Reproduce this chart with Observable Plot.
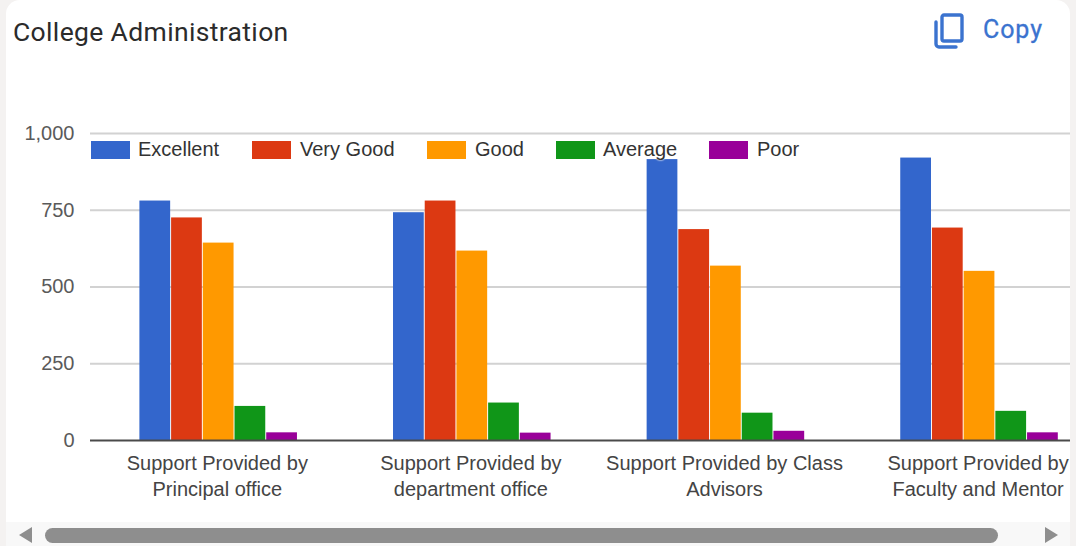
<!DOCTYPE html>
<html><head><meta charset="utf-8">
<script src="https://cdn.jsdelivr.net/npm/d3@7"></script>
<script src="https://cdn.jsdelivr.net/npm/@observablehq/plot@0.6"></script>
<style>
html,body{margin:0;padding:0;background:#f4f2f1;}
#page{position:relative;width:1076px;height:546px;overflow:hidden;background:#f4f2f1;font-family:"Liberation Sans",Arial,sans-serif;}
#card{position:absolute;left:6px;top:0;width:1064px;height:540px;background:#fff;border-radius:14px 14px 0 0;}
#chart{position:absolute;left:0;top:0;}
#chart svg{display:block;background:transparent;}
#title{position:absolute;left:13px;top:16px;font:26.5px Roboto,sans-serif;color:#2b2b2b;letter-spacing:.35px;white-space:nowrap;}
#copy{position:absolute;left:983px;top:15px;font:25px Roboto,sans-serif;color:#3b73cf;letter-spacing:.9px;-webkit-text-stroke:.3px #3b73cf;}
#icon{position:absolute;left:932px;top:12px;}
.lg{position:absolute;top:141px;height:18px;}
.lt{position:absolute;top:137px;font-size:20px;line-height:24px;color:#333;text-shadow:0 0 2px #fff,0 0 2px #fff;white-space:nowrap;}
#bar{position:absolute;left:6px;top:522px;width:1064px;height:24px;background:#f8f8f8;}
#thumb{position:absolute;left:45px;top:528px;width:953px;height:15px;border-radius:8px;background:#8e8e8e;}
.arrow{position:absolute;top:527px;width:0;height:0;border-top:8px solid transparent;border-bottom:8px solid transparent;}
</style></head>
<body><div id="page">
<div id="card"></div>
<div id="chart"></div>
<div id="title">College Administration</div>
<svg id="icon" width="34" height="38" viewBox="0 0 34 38" fill="none" stroke="#3b73cf" stroke-width="3.4" stroke-linejoin="round" stroke-linecap="round">
<rect x="10" y="3" width="20" height="26" rx="2"/><path d="M4 10v22a3 3 0 0 0 3 3h17"/></svg>
<div id="copy">Copy</div>
<div id="bar"></div><div id="thumb"></div>
<div class="arrow" style="left:19px;border-right:13px solid #8e8e8e"></div>
<div class="arrow" style="left:1045px;border-left:13px solid #8e8e8e"></div>
</div>
<script>
const categories = ["Support Provided by\nPrincipal office","Support Provided by\ndepartment office","Support Provided by Class\nAdvisors","Support Provided by\nFaculty and Mentor"];
const seriesNames = ["Excellent","Very Good","Good","Average","Poor"];
const seriesColors = ["#3366cc","#dc3912","#ff9900","#109618","#990099"];
const excellent = [780,742,915,920];
const veryGood  = [725,780,687,692];
const good      = [643,617,568,551];
const average   = [111,122,89,95];
const poor      = [25,24,30,25];
const yTicks = [0,250,500,750,1000];
const legendSwatchX = [91,252,427,556,709];
const legendTextX = [138,300,475,603,757];

const seriesValues = [excellent,veryGood,good,average,poor];
const rows = categories.flatMap((c,i)=>seriesNames.map((s,j)=>({key:i+"|"+s,category:c,series:s,value:seriesValues[j][i]})));
// band slots: five bars then three empty slots between the groups
const slots = categories.flatMap((c,i)=>[...seriesNames.map(s=>i+"|"+s),...(i<categories.length-1?[0,1,2].map(k=>i+"|gap"+k):[])]);
const labels = categories.map((c,i)=>({key:i+"|"+seriesNames[2],label:c}));

const plot = Plot.plot({
  width:1076,height:546,marginLeft:90,marginRight:6,marginTop:133,marginBottom:106,
  style:{background:"transparent",fontFamily:"'Liberation Sans',Arial,sans-serif",fontSize:"20px"},
  x:{domain:slots,range:[139.4,1057.8],round:false,paddingInner:0.03,paddingOuter:0,axis:null},
  y:{domain:[0,1000],axis:null},
  color:{domain:seriesNames,range:seriesColors},
  marks:[
    Plot.ruleY(yTicks.slice(1),{stroke:"#d2d2d2",strokeWidth:2}),
    Plot.barY(rows,{x:"key",y:"value",fill:"series"}),
    Plot.ruleY([0],{stroke:"#4a4a4a",strokeWidth:2}),
    Plot.axisY({ticks:yTicks,tickSize:0,tickPadding:16,tickFormat:d3.format(","),label:null,fontSize:20,color:"#5a5a5a"}),
    Plot.text(labels,{x:"key",y:()=>0,text:"label",dx:-1.4,dy:11,lineAnchor:"top",lineHeight:1.3,fontSize:20,fill:"#444",textAnchor:"middle"})
  ]
});
document.getElementById("chart").append(plot);
const page=document.getElementById("page");
seriesNames.forEach((s,i)=>{
  const sw=document.createElement("div");sw.className="lg";sw.style.left=legendSwatchX[i]+"px";sw.style.width="39px";sw.style.background=seriesColors[i];page.append(sw);
  const t=document.createElement("div");t.className="lt";t.style.left=legendTextX[i]+"px";t.textContent=s;page.append(t);
});
</script></body></html>
